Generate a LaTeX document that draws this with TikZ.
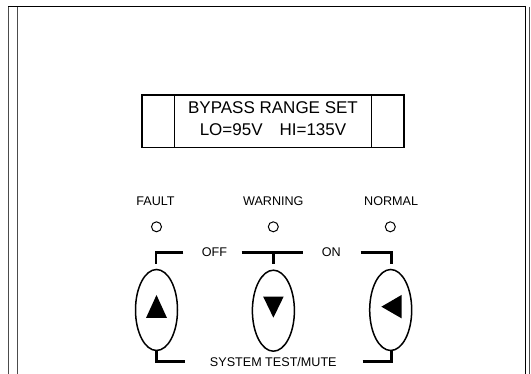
\documentclass[tikz,border=0pt]{standalone}
\usepackage{fontspec}
\setmainfont{Liberation Sans}
\usetikzlibrary{shapes.geometric,calc}
\begin{document}
\begin{tikzpicture}[x=1pt,y=-1pt,
  frameline/.style={line width=1.4pt,draw=black!70},
  boxline/.style={line width=1.4pt,draw=black},
  bracket/.style={line width=2.6pt,draw=black},
  led/.style={circle,draw=black,line width=1pt,minimum size=10pt,inner sep=0pt},
  keyoval/.style={ellipse,draw=black,line width=1.5pt,minimum width=42pt,minimum height=81pt,inner sep=0pt},
  bigtext/.style={font=\fontsize{17}{20}\selectfont,anchor=base,inner sep=0pt},
  smalltext/.style={font=\fontsize{12.6}{15}\selectfont,anchor=base,inner sep=0pt},
  tri/.style={fill=black}
]
\useasboundingbox (0,0) rectangle (531,374);
% outer frame
\draw[frameline] (8.7,374) -- (8.7,6);
\draw[frameline] (17.3,374) -- (17.3,6.6);
\draw[line width=1.2pt] (8.2,6.2) -- (526.3,6.2);
\draw[line width=1pt] (525.8,6) -- (525.8,374);
\draw[frameline] (529.4,7) -- (529.4,374);
% display
\coordinate (dtl) at (142,95);
\coordinate (dbr) at (404,147.3);
\draw[boxline] (dtl) rectangle (dbr);
\draw[boxline] (174.3,95) -- (174.3,147.3);
\draw[boxline] (371.7,95) -- (371.7,147.3);
\node[bigtext] (l1) at (273,113.3) {BYPASS RANGE SET};
\node[bigtext] (l2) at (273,136) {LO=95V\hspace{17pt}HI=135V};
% labels
\node[smalltext] (fault) at (155.5,205.3) {FAULT};
\node[smalltext] (warn) at (273.3,205.3) {WARNING};
\node[smalltext] (norm) at (391.2,205.3) {NORMAL};
\node[led] (ledf) at (156.5,226.8) {};
\node[led] (ledw) at (273.3,226.8) {};
\node[led] (ledn) at (390.3,226.8) {};
\node[smalltext] (off) at (214.5,256.7) {OFF};
\node[smalltext] (on) at (331.2,256.7) {ON};
\node[smalltext] (stm) at (273.3,366.3) {SYSTEM TEST/MUTE};
% keys
\node[keyoval] (k1) at (156.5,310) {};
\node[keyoval] (k2) at (273.4,310.7) {};
\node[keyoval] (k3) at (390.7,310) {};
\fill[tri] ($(k1)+(0,-15)$) -- ($(k1)+(-10.5,8)$) -- ($(k1)+(10.5,8)$) -- cycle;
\fill[tri] ($(k2)+(-10.2,-14)$) -- ($(k2)+(10.2,-14)$) -- ($(k2)+(0,7)$) -- cycle;
\fill[tri] ($(k3)+(-9.3,-3.3)$) -- ($(k3)+(10.8,-15)$) -- ($(k3)+(10.8,8.3)$) -- cycle;
% brackets
\draw[bracket] (183.3,252.7) -- (156,252.7) -- (156,263.6);
\draw[bracket] (241.7,252.7) -- (302.7,252.7);
\draw[bracket] (273.3,252.7) -- (273.3,264.3);
\draw[bracket] (360.7,252.7) -- (391.2,252.7) -- (391.2,264.3);
\draw[bracket] (156.5,349.6) -- (156.5,361.7) -- (185,361.7);
\draw[bracket] (362.7,361.7) -- (391.2,361.7) -- (391.2,349.8);
\end{tikzpicture}
\end{document}
